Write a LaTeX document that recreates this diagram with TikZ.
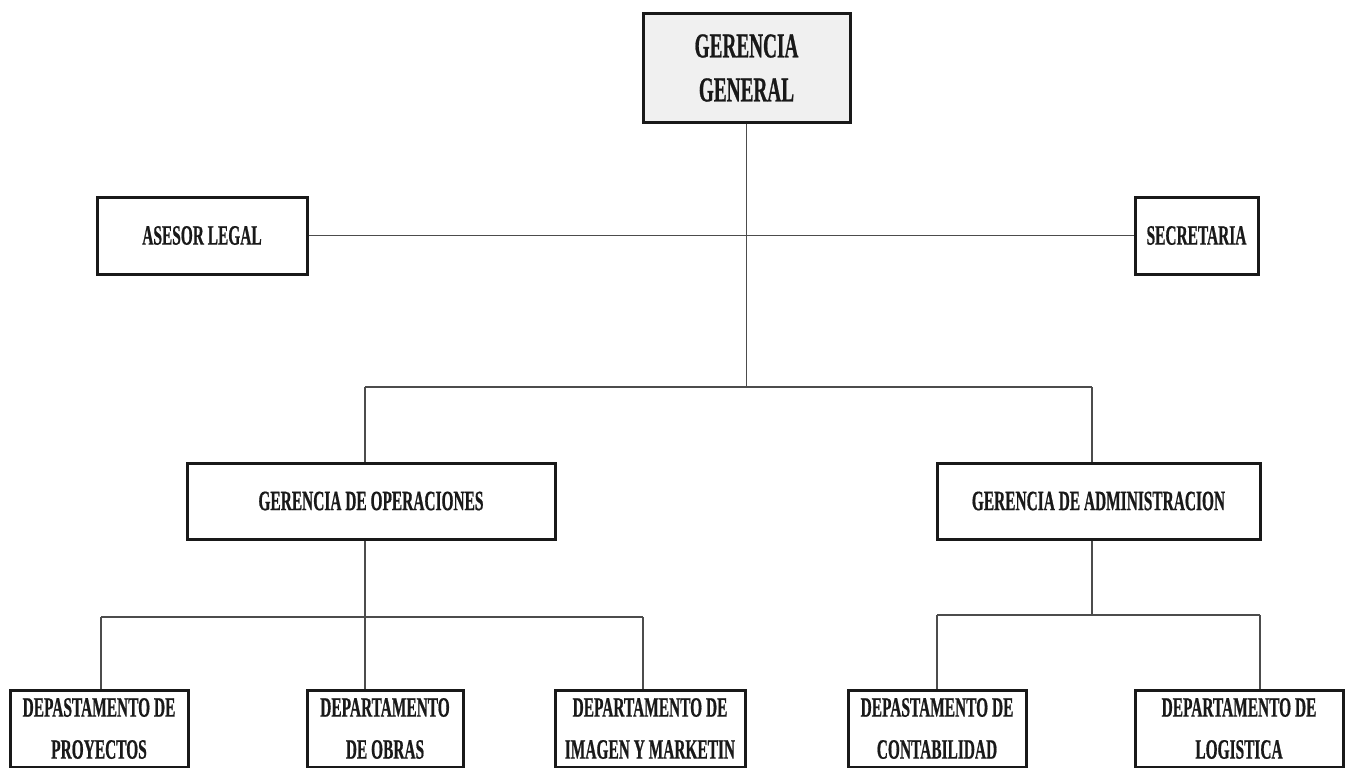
\documentclass[tikz,border=0pt]{standalone}
\usepackage{fontspec}
\newfontfamily\orgfont{Liberation Serif Bold}[FakeStretch=0.55, FakeBold=0.6]
\begin{document}
\begin{tikzpicture}[x=1pt,y=-1pt,
  box/.style={draw=black!90, line width=3pt, align=center, inner sep=0pt,
    text=black!90, font=\orgfont\fontsize{28}{42}\selectfont},
  conn/.style={draw=black!70, line width=1.8pt}]
\useasboundingbox[fill=white] (0,0) rectangle (1347,768);
\node[box, fill=black!6, minimum width=207pt, minimum height=108pt,
  font=\orgfont\fontsize{35}{44}\selectfont] (gg) at (746.5,68) {GERENCIA\\GENERAL};
\node[box, minimum width=210pt, minimum height=77pt] (legal) at (202,235.5) {ASESOR LEGAL};
\node[box, minimum width=123pt, minimum height=77pt] (secr) at (1196.5,235.5) {SECRETARIA};
\node[box, minimum width=368pt, minimum height=76pt] (gop) at (371,501) {GERENCIA DE OPERACIONES};
\node[box, minimum width=323pt, minimum height=76pt] (gad) at (1098.5,501) {GERENCIA DE ADMINISTRACION};
\node[box, minimum width=178pt, minimum height=77pt] (b1) at (99,728.5) {DEPASTAMENTO DE\\PROYECTOS};
\node[box, minimum width=156pt, minimum height=77pt] (b2) at (385,728.5) {DEPARTAMENTO\\DE OBRAS};
\node[box, minimum width=190pt, minimum height=77pt] (b3) at (650,728.5) {DEPARTAMENTO DE\\IMAGEN Y MARKETIN};
\node[box, minimum width=178pt, minimum height=77pt] (b4) at (937,728.5) {DEPASTAMENTO DE\\CONTABILIDAD};
\node[box, minimum width=208pt, minimum height=77pt] (b5) at (1239,728.5) {DEPARTAMENTO DE\\LOGISTICA};
% junctions
\coordinate (jm) at (747,387);
\coordinate (hl) at (365,387);
\coordinate (hr) at (1092,387);
\coordinate (ol) at (365,617);
\coordinate (o1) at (101,617);
\coordinate (o3) at (643,617);
\coordinate (ar) at (1092,615);
\coordinate (a4) at (937,615);
\coordinate (a5) at (1260,615);
% connectors
\draw[conn] (gg.south) -- (gg.south |- jm);
\draw[conn] (legal.east) -- (secr.west);
\draw[conn] (hl) -- (hr);
\draw[conn] (hl) -- (hl |- gop.north);
\draw[conn] (hr) -- (hr |- gad.north);
\draw[conn] (ol |- gop.south) -- (ol);
\draw[conn] (o1) -- (o3);
\draw[conn] (o1) -- (o1 |- b1.north);
\draw[conn] (ol) -- (ol |- b2.north);
\draw[conn] (o3) -- (o3 |- b3.north);
\draw[conn] (ar |- gad.south) -- (ar);
\draw[conn] (a4) -- (a5);
\draw[conn] (a4) -- (a4 |- b4.north);
\draw[conn] (a5) -- (a5 |- b5.north);
\end{tikzpicture}
\end{document}
